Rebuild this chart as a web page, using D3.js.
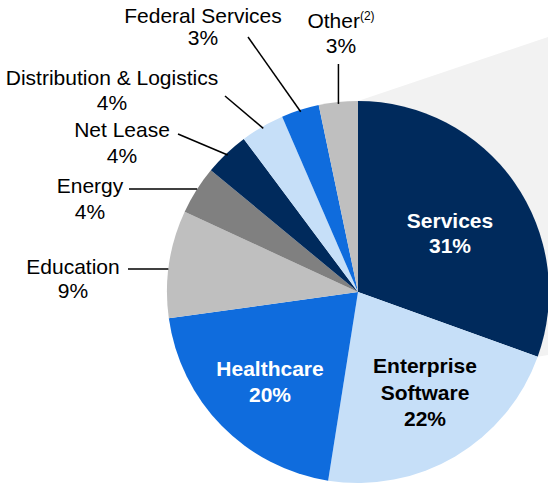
<!DOCTYPE html>
<html>
<head>
<meta charset="utf-8">
<script src="https://cdn.jsdelivr.net/npm/d3@7"></script>
<style>
  html, body { margin: 0; padding: 0; background: #fff; }
  svg { display: block; font-family: "Liberation Sans", Arial, Helvetica, sans-serif; }
</style>
</head>
<body>
<svg id="chart" width="548" height="484"></svg>
<script>
// ---- data ----
const categories = ["Services", "Enterprise Software", "Healthcare", "Education", "Energy",
                    "Net Lease", "Distribution & Logistics", "Federal Services", "Other"];
const values = [30.5, 22.0, 20.3, 9.1, 4.1, 3.8, 3.7, 3.2, 3.3];
const colors = ["#002A5C", "#C6DFF8", "#0F6CDD", "#BFBFBF", "#808080",
                "#002A5C", "#C6DFF8", "#0F6CDD", "#BFBFBF"];

// ---- layout ----
const W = 548, H = 484;
const cx = 358, cy = 292, R = 191;
const fontSize = 21;

const svg = d3.select("#chart");
const pie = d3.pie().sort(null).value(d => d.value);
const arcs = pie(categories.map((c, i) => ({ name: c, value: values[i], color: colors[i] })));
const arc = d3.arc().innerRadius(0).outerRadius(R);

function polar(angle, r) { return [cx + r * Math.sin(angle), cy - r * Math.cos(angle)]; }

// background callout shape (to the right of the first slice)
const pTop = polar(arcs[0].startAngle, R);
const pBot = polar(arcs[0].endAngle, R);
svg.append("polygon")
  .attr("points", [pTop, [W, 37], [W, 355], pBot].map(p => p.join(",")).join(" "))
  .attr("fill", "#F2F2F2");

const g = svg.append("g").attr("transform", `translate(${cx},${cy})`);
g.selectAll("path").data(arcs).join("path")
  .attr("d", arc)
  .attr("fill", d => d.data.color);

const pct = v => Math.round(v) + "%";

// inside labels
const inside = [
  { i: 0, x: 450, ys: [228, 253], fill: "#fff", lines: ["Services"] },
  { i: 1, x: 425, ys: [373, 400, 426], fill: "#000", lines: ["Enterprise", "Software"] },
  { i: 2, x: 270, ys: [376, 402], fill: "#fff", lines: ["Healthcare"] }
];
inside.forEach(l => {
  const t = svg.append("text").attr("text-anchor", "middle")
    .attr("font-size", fontSize).attr("font-weight", "bold").attr("fill", l.fill);
  const lines = l.lines.concat([pct(values[l.i])]);
  lines.forEach((s, k) => t.append("tspan").attr("x", l.x).attr("y", l.ys[k]).text(s));
});

// outside labels with leader lines
const outside = [
  { i: 3, x: 73,  ys: [274, 298], lx: 128, ly: 269, horiz: true },
  { i: 4, x: 90,  ys: [193, 219], lx: 129, ly: 189, horiz: true },
  { i: 5, x: 122, ys: [137, 163], lx: 178, ly: 134 },
  { i: 6, x: 112, ys: [85, 110],  lx: 225, ly: 96 },
  { i: 7, x: 203, ys: [23, 45],   lx: 248, ly: 37 },
  { i: 8, x: 341, ys: [28, 53],   lx: null, ly: 64, sup: "(2)" }
];
outside.forEach(l => {
  const a = arcs[l.i];
  const mid = (a.startAngle + a.endAngle) / 2;
  let end = polar(mid, R * 0.99);
  let start;
  if (l.horiz) {
    const dy = l.ly - cy;
    end = [cx - Math.sqrt(R * R - dy * dy), l.ly];
    start = [l.lx, l.ly];
  } else if (l.lx === null) {
    start = [end[0], l.ly];
  } else {
    start = [l.lx, l.ly];
  }
  svg.append("line")
    .attr("x1", start[0]).attr("y1", start[1])
    .attr("x2", end[0]).attr("y2", end[1])
    .attr("stroke", "#000").attr("stroke-width", 1.5);

  const t = svg.append("text").attr("text-anchor", "middle")
    .attr("font-size", fontSize).attr("fill", "#000");
  t.append("tspan").attr("x", l.x).attr("y", l.ys[0]).text(categories[l.i]);
  if (l.sup) {
    t.append("tspan").attr("font-size", 12).attr("dy", -8).text(l.sup);
  }
  svg.append("text").attr("text-anchor", "middle")
    .attr("font-size", fontSize).attr("fill", "#000")
    .attr("x", l.x).attr("y", l.ys[1]).text(pct(values[l.i]));
});
</script>
</body>
</html>
